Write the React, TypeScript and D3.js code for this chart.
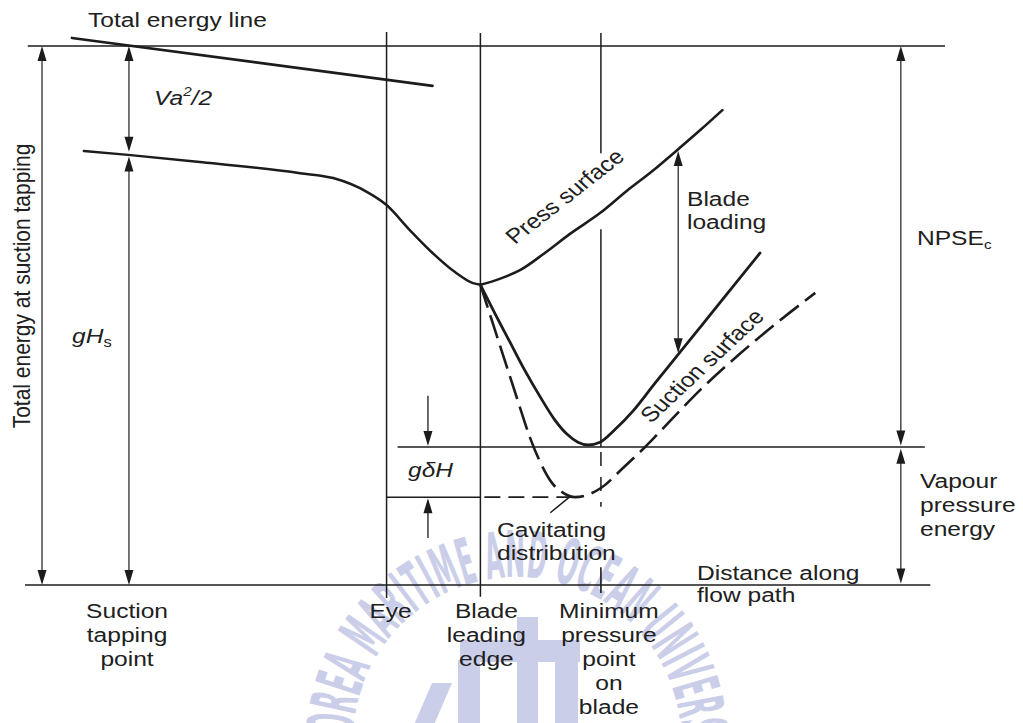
import React from 'react';
import * as d3 from 'd3';

type Pt = [number, number];

// Distance along the flow path (0–100) against energy (0 = datum, 100 = total energy at the tapping)
const totalEnergyLine: Pt[] = [[5.1, 101.5], [44.3, 92.6]];

const staticEnergy: Pt[] = [
  [6.4, 80.5], [11.2, 79.8], [19.0, 78.5], [29.9, 76.4], [33.5, 75.5], [37.2, 72.9],
  [39.3, 70.5], [41.8, 65.9], [44.3, 61.6], [46.7, 58.1], [48.7, 56.0], [49.5, 55.7],
];

const pressSurface: Pt[] = [
  [49.5, 55.7], [51.6, 56.8], [53.8, 58.4], [56.5, 61.6], [59.2, 65.1], [62.5, 69.0],
  [65.4, 73.1], [68.2, 76.8], [70.9, 80.7], [73.4, 84.4], [75.8, 88.1],
];

const suctionSurface: Pt[] = [
  [49.5, 55.7], [51.1, 50.3], [52.7, 45.1], [54.3, 39.9], [56.0, 34.9], [57.6, 30.6],
  [58.9, 28.0], [60.1, 26.5], [61.2, 26.0], [62.5, 26.5], [64.1, 28.8], [66.1, 32.3],
  [68.5, 37.5], [71.2, 43.2], [75.5, 52.3], [79.9, 61.6],
];

const cavitatingDistribution: Pt[] = [
  [49.5, 55.7], [50.8, 48.8], [52.2, 41.4], [53.6, 34.0], [54.9, 27.3], [56.0, 22.8],
  [57.3, 18.9], [58.5, 17.1], [59.8, 16.3], [62.6, 18.0], [65.0, 21.7], [67.4, 25.6],
  [70.1, 30.4], [73.4, 36.2], [77.7, 42.9], [81.7, 48.6], [85.9, 54.2],
];

// Stations along the flow path
const stationNames = ['tapping', 'eye', 'leadingEdge', 'minPressure'];
const stationDistance = [11.2, 39.3, 49.5, 62.6];
const stationLabels: string[][] = [
  ['Suction', 'tapping', 'point'],
  ['Eye'],
  ['Blade', 'leading', 'edge'],
  ['Minimum', 'pressure', 'point', 'on', 'blade'],
];
const stationLabelShift = [-1, 4, 6, 8];

// Energy levels
const levelTotal = 100;
const levelStaticAtTapping = 79.8;
const levelVapour = 25.6;
const levelCavitatingMin = 16.3;

const W = 1023;
const H = 723;
const x = d3.scaleLinear().domain([0, 100]).range([25, 945]);
const y = d3.scaleLinear().domain([0, 100]).range([585, 46]);

const curve = d3
  .line<Pt>()
  .x((d) => x(d[0]))
  .y((d) => y(d[1]))
  .curve(d3.curveMonotoneX);
const straight = d3
  .line<Pt>()
  .x((d) => x(d[0]))
  .y((d) => y(d[1]));

const INK = '#1c1c1c';
const TEXT = '#202020';
const FONT = '"Liberation Sans", Arial, Helvetica, sans-serif';
const STRETCH = 1.17;
const WM = '#cbcee9';

function head(px: number, py: number, dir: 'up' | 'down') {
  const s = dir === 'up' ? 1 : -1;
  return `M${px},${py} L${px - 4.5},${py + s * 15} L${px + 4.5},${py + s * 15} Z`;
}

// Two-headed vertical dimension between two energy levels
function Dimension({ d, from, to }: { d: number; from: number; to: number }) {
  const px = x(d);
  const top = y(Math.max(from, to));
  const bot = y(Math.min(from, to));
  return (
    <g>
      <line x1={px} x2={px} y1={top + 4} y2={bot - 4} stroke={INK} strokeWidth={1.2} />
      <path d={head(px, top, 'up')} fill={INK} />
      <path d={head(px, bot, 'down')} fill={INK} />
    </g>
  );
}

type LabelProps = {
  px: number;
  py: number;
  lines: React.ReactNode[];
  anchor?: 'start' | 'middle' | 'end';
  lh?: number;
  italic?: boolean;
  rotate?: number;
  size?: number;
};

function Label({ px, py, lines, anchor = 'start', lh = 24, italic = false, rotate = 0, size = 21 }: LabelProps) {
  return (
    <text
      transform={`translate(${px},${py}) scale(${STRETCH},1)${rotate ? ` rotate(${rotate})` : ''}`}
      textAnchor={anchor}
      fontSize={size}
      fontFamily={FONT}
      fontStyle={italic ? 'italic' : 'normal'}
      fill={TEXT}
    >
      {lines.map((l, i) => (
        <tspan key={i} x={0} dy={i === 0 ? 0 : lh}>
          {l}
        </tspan>
      ))}
    </text>
  );
}

function Watermark() {
  const cx = 517;
  const cy = 741;
  const r = 164;
  const a0 = (184 * Math.PI) / 180;
  const a1 = (-13 * Math.PI) / 180;
  const p0 = [cx + r * Math.cos(a0), cy - r * Math.sin(a0)];
  const p1 = [cx + r * Math.cos(a1), cy - r * Math.sin(a1)];
  const len = r * (a0 - a1);
  return (
    <g>
      <defs>
        <path id="wm-arc" d={`M${p0[0]},${p0[1]} A${r},${r} 0 1 1 ${p1[0]},${p1[1]}`} />
      </defs>
      <text
        fontFamily='"Liberation Sans Narrow", "DejaVu Sans Condensed", "Liberation Sans", sans-serif'
        fontWeight="bold"
        fontSize={64}
        fill={WM}
      >
        <textPath href="#wm-arc" textLength={len} lengthAdjust="spacingAndGlyphs">
          KOREA MARITIME AND OCEAN UNIVERSITY
        </textPath>
      </text>
      <rect x={517} y={617} width={21} height={110} fill={WM} />
      <rect x={460} y={640} width={120} height={22} fill={WM} />
      <rect x={458} y={660} width={22} height={70} fill={WM} />
      <rect x={555} y={660} width={23} height={70} fill={WM} />
      <path d="M432,683 L452,683 L433,727 L413,727 Z" fill={WM} />
    </g>
  );
}

export default function App() {
  const xEye = x(stationDistance[1]);
  const xLE = x(stationDistance[2]);
  const xMin = x(stationDistance[3]);

  return (
    <svg
      width={W}
      height={H}
      viewBox={`0 0 ${W} ${H}`}
      style={{ position: 'absolute', left: 0, top: 0, background: '#fff' }}
    >
      <rect width={W} height={H} fill="#fff" />
      <Watermark />

      {/* reference levels */}
      <line x1={x(0.3)} x2={x(100)} y1={y(levelTotal)} y2={y(levelTotal)} stroke={INK} strokeWidth={1.5} />
      <line x1={x(0)} x2={x(98.4)} y1={y(0)} y2={y(0)} stroke={INK} strokeWidth={1.6} />
      <line x1={x(40.5)} x2={x(97.8)} y1={y(levelVapour)} y2={y(levelVapour)} stroke={INK} strokeWidth={1.4} />
      <line x1={xEye} x2={xLE} y1={y(levelCavitatingMin)} y2={y(levelCavitatingMin)} stroke={INK} strokeWidth={1.5} />
      <line
        x1={xLE + 4}
        x2={x(59.6)}
        y1={y(levelCavitatingMin)}
        y2={y(levelCavitatingMin)}
        stroke={INK}
        strokeWidth={1.6}
        strokeDasharray="16 8"
      />

      {/* station lines */}
      <line x1={xEye} x2={xEye} y1={y(102.6)} y2={y(-2.4)} stroke={INK} strokeWidth={1.5} />
      <line x1={xLE} x2={xLE} y1={y(102.4)} y2={y(-2.2)} stroke={INK} strokeWidth={1.5} />
      <line x1={xMin} x2={xMin} y1={y(102.4)} y2={y(80.1)} stroke={INK} strokeWidth={1.5} />
      <line x1={xMin} x2={xMin} y1={y(66.0)} y2={y(levelVapour)} stroke={INK} strokeWidth={1.5} />
      <line
        x1={xMin}
        x2={xMin}
        y1={y(levelVapour)}
        y2={y(14.5)}
        stroke={INK}
        strokeWidth={1.5}
        strokeDasharray="0 5 14 6"
      />
      <line x1={xMin} x2={xMin} y1={y(3.3)} y2={y(-1.5)} stroke={INK} strokeWidth={1.6} />

      {/* energy curves */}
      <path d={straight(totalEnergyLine) ?? ''} fill="none" stroke={INK} strokeWidth={2.6} strokeLinecap="round" />
      <path d={curve(staticEnergy) ?? ''} fill="none" stroke={INK} strokeWidth={2.5} strokeLinecap="round" />
      <path d={curve(pressSurface) ?? ''} fill="none" stroke={INK} strokeWidth={2.6} strokeLinecap="round" />
      <path d={curve(suctionSurface) ?? ''} fill="none" stroke={INK} strokeWidth={2.8} strokeLinecap="round" />
      <path
        d={curve(cavitatingDistribution) ?? ''}
        fill="none"
        stroke={INK}
        strokeWidth={2.6}
        strokeDasharray="24 8"
      />
      <path d={straight([[57.1, 13.4], [59.3, 16.5]]) ?? ''} stroke={INK} strokeWidth={1.5} />

      {/* dimensions */}
      <Dimension d={1.85} from={levelTotal} to={0} />
      <Dimension d={11.3} from={levelTotal} to={levelStaticAtTapping + 0.6} />
      <Dimension d={11.3} from={levelStaticAtTapping - 0.3} to={0} />
      <Dimension d={95.2} from={levelTotal} to={levelVapour + 0.3} />
      <Dimension d={95.2} from={levelVapour - 0.3} to={0.3} />
      <Dimension d={71.0} from={80.5} to={43.0} />
      <g>
        <line x1={x(43.8)} x2={x(43.8)} y1={y(35.1)} y2={y(levelVapour) - 4} stroke={INK} strokeWidth={1.3} />
        <path d={head(x(43.8), y(levelVapour) - 1, 'down')} fill={INK} />
        <line x1={x(43.8)} x2={x(43.8)} y1={y(8.7)} y2={y(levelCavitatingMin) + 4} stroke={INK} strokeWidth={1.3} />
        <path d={head(x(43.8), y(levelCavitatingMin) + 1, 'up')} fill={INK} />
      </g>

      {/* labels */}
      <Label px={88} py={27} lines={['Total energy line']} />
      <Label
        px={154}
        py={105}
        italic
        lines={[
          <>
            Va
            <tspan fontSize={13} dy={-9}>
              2
            </tspan>
            <tspan dy={9}>/2</tspan>
          </>,
        ]}
      />
      <Label
        px={72}
        py={343}
        lines={[
          <>
            <tspan fontStyle="italic">gH</tspan>
            <tspan fontSize={14} dy={4}>
              s
            </tspan>
          </>,
        ]}
      />
      <Label px={30} py={286} rotate={-90} anchor="middle" lines={['Total energy at suction tapping']} />
      <Label px={408} py={477} italic lines={['gδH']} />

      {stationNames.map((n, i) => (
        <Label
          key={n}
          px={x(stationDistance[i]) + stationLabelShift[i]}
          py={618}
          anchor="middle"
          lh={24}
          lines={stationLabels[i]}
        />
      ))}

      <Label px={497} py={537} lh={23} lines={['Cavitating', 'distribution']} />
      <Label px={697} py={580} lh={22} lines={['Distance along', 'flow path']} />
      <Label px={687} py={206} lh={23} lines={['Blade', 'loading']} />
      <Label
        px={917}
        py={245}
        lines={[
          <>
            NPSE
            <tspan fontSize={13} dy={4}>
              c
            </tspan>
          </>,
        ]}
      />
      <Label px={920} py={488} lh={24} lines={['Vapour', 'pressure', 'energy']} />
      <Label px={515} py={245} rotate={-42.4} lines={['Press surface']} />
      <Label px={651} py={424} rotate={-47.5} lines={['Suction surface']} />
    </svg>
  );
}
